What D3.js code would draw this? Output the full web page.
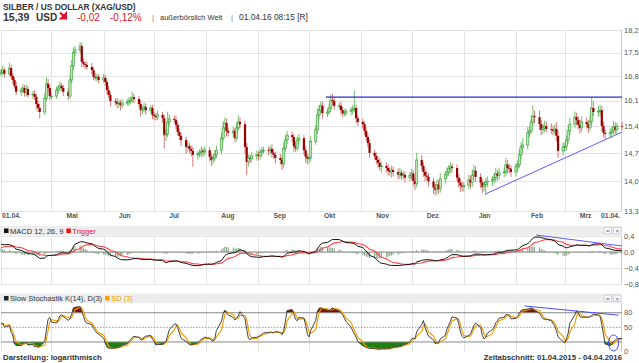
<!DOCTYPE html>
<html>
<head>
<meta charset="utf-8">
<script src="https://cdn.jsdelivr.net/npm/d3@7"></script>
<style>
body{margin:0;background:#fff}
svg{display:block;font-family:"Liberation Sans",Arial,sans-serif}
</style>
</head>
<body>
<svg id="chart"></svg>
<script>
const width = 639
const height = 363

// Schlusskurse je Handelstag, 01.04.2015 - 04.04.2016 (Apr..Mrz, Apr)
const closes = [
  16.92,16.98,16.87,17.04,16.81,16.69,16.52,16.35,16.40,16.46,16.32,16.43,16.26,16.29,16.21,16.01,15.90,15.79,16.17,16.58,16.46,16.23,
  16.23,16.40,16.46,16.52,16.46,16.35,16.23,16.69,17.10,17.51,17.58,17.70,17.22,17.16,17.13,17.07,16.98,16.78,16.75,16.78,16.69,
  16.75,16.63,16.40,16.26,16.09,16.06,16.01,16.04,15.98,16.04,16.06,16.09,16.12,16.20,16.15,16.01,15.84,15.87,15.93,15.84,15.90,15.71,
  15.68,15.65,15.71,15.62,15.17,15.20,15.52,15.60,15.57,15.44,15.25,15.15,15.04,14.86,14.88,14.81,14.76,14.66,14.68,14.71,14.76,14.73,14.78,
  14.61,14.53,14.58,14.66,14.78,15.09,15.36,15.49,15.28,15.23,15.28,15.09,15.36,15.52,15.46,14.86,14.48,14.58,14.56,14.63,14.66,
  14.63,14.73,14.76,14.78,14.76,14.81,14.71,14.66,14.58,14.53,14.43,14.83,15.04,15.17,15.12,14.88,14.83,15.04,15.09,14.78,14.61,14.56,
  14.58,15.00,15.31,15.71,15.84,15.96,15.76,15.79,15.90,16.12,16.09,15.96,15.96,15.84,15.76,15.76,15.81,15.84,15.87,15.90,15.62,15.52,
  15.46,15.28,15.12,14.96,14.71,14.63,14.53,14.46,14.36,14.38,14.33,14.26,14.23,14.28,14.23,14.16,14.21,14.14,14.16,14.09,14.14,
  14.19,14.01,13.94,14.53,14.38,14.23,14.14,14.11,14.00,13.85,13.80,13.92,13.82,14.06,14.16,14.23,14.31,14.36,14.33,14.09,13.97,13.90,13.87,
  13.90,14.04,13.97,14.14,14.26,14.11,13.97,13.87,13.92,13.97,14.01,14.04,14.09,14.19,14.14,14.21,14.23,14.41,14.33,14.31,14.23,
  14.36,14.41,14.66,14.86,14.91,15.23,15.28,15.52,15.68,15.65,15.46,15.31,15.36,15.41,15.33,15.31,15.28,15.33,15.15,14.76,14.86,
  14.88,15.04,15.28,15.46,15.65,15.57,15.44,15.36,15.52,15.46,15.36,15.54,15.90,15.79,15.81,15.84,15.41,15.23,15.20,15.23,15.28,15.39,15.31,
  15.41,15.39
]
// Dochte in Cent ueber / unter dem Kerzenkoerper
const wickHi = [
  10,12,8,15,10,8,9,12,8,11,9,12,8,9,11,8,9,12,15,18,14,9,
  8,11,9,12,8,9,11,15,18,15,12,12,9,11,8,9,12,8,11,9,8,
  12,9,8,11,9,8,12,9,8,11,9,12,9,15,9,8,11,8,12,9,8,9,
  9,8,11,8,9,12,28,12,9,11,8,9,8,9,12,8,9,11,8,9,12,8,9,
  8,9,8,11,12,15,18,15,12,9,11,8,15,18,12,9,11,9,8,9,11,
  9,8,11,8,9,8,12,9,8,11,9,15,12,11,9,8,12,9,11,8,9,8,
  8,15,12,18,15,12,11,9,12,15,18,9,8,12,9,11,8,9,12,50,9,8,
  9,8,11,8,9,8,9,8,11,9,8,9,8,11,9,8,12,8,9,8,9,
  11,8,9,18,12,9,8,11,9,8,9,12,11,14,9,12,9,11,8,9,8,11,9,
  8,12,9,14,15,11,9,8,9,12,11,9,12,14,9,12,11,18,12,11,9,
  9,11,15,12,18,15,12,18,30,15,18,12,11,14,12,15,11,12,18,15,12,
  9,12,15,18,15,12,11,14,15,12,11,18,30,18,15,14,12,11,9,12,11,15,12,
  9,12
]
const wickLo = [
  8,9,12,8,9,11,8,9,12,8,11,9,8,12,9,15,11,18,9,8,12,11,
  9,8,11,8,9,12,11,8,9,12,11,9,15,9,12,8,11,9,8,11,9,
  9,11,12,9,15,9,12,11,15,9,8,11,9,8,12,9,18,11,9,12,9,12,
  11,9,8,12,35,15,9,11,8,12,9,11,15,18,12,11,14,30,12,9,11,12,9,
  12,15,11,9,8,11,9,12,15,9,12,11,9,8,12,18,32,12,11,9,12,
  11,9,12,8,11,9,12,11,14,12,15,9,8,11,12,14,9,8,11,12,15,14,
  12,9,8,11,12,9,15,11,8,9,12,11,9,12,11,9,8,11,12,9,14,11,
  11,12,9,11,12,9,11,12,9,15,11,12,9,14,11,12,9,11,8,12,9,
  11,12,15,9,11,12,14,9,12,15,14,11,12,9,11,8,9,11,12,9,12,15,11,
  12,9,14,11,9,12,14,15,12,25,11,12,9,11,12,9,11,9,14,11,12,
  11,12,9,12,15,11,12,9,12,18,15,14,11,12,9,11,12,9,15,18,12,
  12,11,9,12,11,14,12,15,11,12,14,9,12,11,14,12,15,12,14,11,12,9,12,
  11,9
]
const firstOpen = 16.87
const macdSeed = [16.72, 16.54, 0.08]   // EMA12, EMA26, Trigger zum Start

const priceTicks = [18.2,17.5,16.8,16.1,15.4,14.7,14.0,13.3]
const macdTicks = [0.4,0,-0.4,-0.8]
const stochTicks = [80,50,0]
const stochLevels = [80,50,20]
const monthNames = ['Mai','Jun','Jul','Aug','Sep','Okt','Nov','Dez','Jan','Feb','Mrz']

// Trendlinien / Markierungen
const resistance = [{date:'2015-10-11',value:16.2},{date:'2016-04-04',value:16.2}]
const support = [{date:'2016-01-14',value:13.70},{date:'2016-04-04',value:15.25}]
const macdTrend = [{date:'2016-02-13',value:0.425},{date:'2016-04-04',value:0.15}]
const stochTrend = [{date:'2016-02-06',value:94},{date:'2016-04-02',value:75}]
const stochMark = {date:'2016-03-30',value:18}

const parse = d3.timeParse('%Y-%m-%d')
const start = new Date(2015,3,1), end = new Date(2016,3,4)
const days = d3.timeDay.range(start, d3.timeDay.offset(end,1)).filter(d=>d.getDay()%6!==0)

const data = []
let prev = firstOpen
closes.forEach((c,i)=>{
    const o = prev
    data.push({date:days[i],open:o,close:c,
        high:Math.max(o,c)+wickHi[i]/100,
        low:Math.min(o,c)-wickLo[i]/100})
    prev = c
})

// MACD 12,26,9
let e12=macdSeed[0], e26=macdSeed[1], sig=macdSeed[2]
data.forEach(d=>{
    e12 += 2/13*(d.close-e12)
    e26 += 2/27*(d.close-e26)
    d.macd = e12-e26
    sig += 2/10*(d.macd-sig)
    d.trig = sig
})
// Slow Stochastik K(14), D(3)
data.forEach((d,i)=>{
    const w = data.slice(Math.max(0,i-13),i+1)
    const lo = d3.min(w,e=>e.low), hi = d3.max(w,e=>e.high)
    d.fk = (d.close-lo)/(hi-lo)*100
})
data.forEach((d,i)=>{ d.k = d3.mean(data.slice(Math.max(0,i-2),i+1),e=>e.fk) })
data.forEach((d,i)=>{ d.d = d3.mean(data.slice(Math.max(0,i-2),i+1),e=>e.k) })

const svg = d3.select('#chart').attr('width',width).attr('height',height)

const x = d3.scaleTime().domain([start,end]).range([1,622])
const yP = d3.scaleLog().domain([13.3,18.2]).range([211,30])
const yM = d3.scaleLinear().domain([-0.8,0.4]).range([284,236])
const yH = d3.scaleLinear().domain([-0.4,0.2]).range([268,244])   // Histogramm, ueberhoeht
const yS = d3.scaleLinear().domain([0,100]).range([351.7,303])

const months = d3.timeMonth.range(new Date(2015,4,1), new Date(2016,3,1))
const fmt = v => d3.format('.1f')(v).replace('.',',')

// Kopfzeile
const head = svg.append('g').attr('fill','#333')
head.append('text').attr('x',3).attr('y',10).attr('font-size',8.4).attr('font-weight','bold').text('SILBER / US DOLLAR (XAG/USD)')
head.append('text').attr('x',3).attr('y',20.5).attr('font-size',10.5).attr('font-weight','bold').text('15,39')
head.append('text').attr('x',36).attr('y',20.5).attr('font-size',10).attr('font-weight','bold').text('USD')
head.append('path').attr('d','M60,12.5 L65,17.5 M66,13.5 L66,18.5 L61,18.5 Z').attr('stroke','#e0102e').attr('stroke-width',2).attr('fill','#e0102e')
head.append('text').attr('x',77).attr('y',20.5).attr('font-size',10).attr('fill','#e0102e').text('-0,02')
head.append('text').attr('x',110).attr('y',20.5).attr('font-size',10).attr('fill','#e0102e').text('-0,12%')
head.append('text').attr('x',152).attr('y',20).attr('font-size',8).attr('fill','#888').text('|')
head.append('text').attr('x',160).attr('y',19.5).attr('font-size',7.5).text('außerbörslich Welt')
head.append('text').attr('x',231).attr('y',20).attr('font-size',8).attr('fill','#888').text('|')
head.append('text').attr('x',239).attr('y',19.5).attr('font-size',8.4).text('01.04.16 08:15 [R]')

// Raster
function grid(y0,y1,ticks,yScale){
    const g = svg.append('g').attr('stroke','#e3e3e3').attr('stroke-width',1)
    g.selectAll('.v').data(months).join('line')
        .attr('x1',d=>Math.round(x(d))+0.5).attr('x2',d=>Math.round(x(d))+0.5)
        .attr('y1',y0).attr('y2',y1)
    g.selectAll('.h').data(ticks).join('line')
        .attr('x1',1).attr('x2',622).attr('y1',d=>Math.round(yScale(d))+0.5).attr('y2',d=>Math.round(yScale(d))+0.5)
    g.append('line').attr('x1',1.5).attr('x2',1.5).attr('y1',y0).attr('y2',y1)
    g.append('line').attr('x1',621.5).attr('x2',621.5).attr('y1',y0).attr('y2',y1).attr('stroke','#ccc')
    svg.append('g').selectAll('text').data(ticks).join('text')
        .attr('x',624).attr('y',d=>yScale(d)).attr('dy','0.35em')
        .attr('font-size',7.5).attr('fill','#555')
        .text(d=>fmt(d))
}
grid(30,211,priceTicks,yP)
grid(236,284,macdTicks,yM)
grid(303,352,[],yS)
svg.append('g').selectAll('text').data(stochTicks).join('text')
    .attr('x',624).attr('y',d=>yS(d)).attr('dy','0.35em')
    .attr('font-size',7.5).attr('fill','#555').text(d=>d)

// Monatsbeschriftung
const ax = svg.append('g').attr('font-size',6.8).attr('font-weight','bold').attr('fill','#555')
ax.selectAll('text').data(months).join('text')
    .attr('x',d=>x(d)+15).attr('y',218).text((d,i)=>monthNames[i])
ax.append('text').attr('x',2).attr('y',218).text('01.04.')
ax.append('text').attr('x',620).attr('y',218).attr('text-anchor','end').text('01.04.')

// Kerzen
const bw = 2.2
const candles = svg.append('g')
candles.selectAll('line').data(data).join('line')
    .attr('x1',d=>x(d.date)).attr('x2',d=>x(d.date))
    .attr('y1',d=>yP(d.high)).attr('y2',d=>yP(d.low))
    .attr('stroke',d=>d.close>=d.open?'#74c06e':'#d67878').attr('stroke-width',1)
candles.selectAll('rect').data(data).join('rect')
    .attr('x',d=>x(d.date)-bw/2).attr('width',bw)
    .attr('y',d=>yP(Math.max(d.open,d.close)))
    .attr('height',d=>Math.max(0.8,yP(Math.min(d.open,d.close))-yP(Math.max(d.open,d.close))))
    .attr('fill',d=>d.close>=d.open?'#bfe5b9':'#9a0000')
    .attr('stroke',d=>d.close>=d.open?'#2f9b2f':'none').attr('stroke-width',0.6)

const line = (xs,ys) => d3.line().x(d=>x(parse(d.date))).y(d=>ys(d.value))
svg.append('path').attr('d',line(x,yP)(resistance)).attr('stroke','#2a2ad0').attr('stroke-width',1.2).attr('fill','none')
svg.append('path').attr('d',line(x,yP)(support)).attr('stroke','#5c5cff').attr('stroke-width',1).attr('fill','none')

// Panel-Kopfleisten
function header(y,items){
    svg.append('rect').attr('x',0).attr('y',y).attr('width',622).attr('height',9.5).attr('fill','#ededed')
    let cx = 4
    items.forEach(it=>{
        svg.append('rect').attr('x',cx).attr('y',y+2.5).attr('width',4.5).attr('height',4.5).attr('fill',it.c)
        const t = svg.append('text').attr('x',cx+6).attr('y',y+7.6).attr('font-size',7.5).attr('fill',it.t).text(it.label)
        cx += 6 + t.node().getComputedTextLength() + 3
    })
    ;[604,613.5].forEach((bx,i)=>{
        svg.append('rect').attr('x',bx).attr('y',y+1.5).attr('width',7.5).attr('height',6.5).attr('fill','#f7f7f7').attr('stroke','#bbb').attr('stroke-width',0.6)
        svg.append('text').attr('x',bx+3.75).attr('y',y+7).attr('text-anchor','middle').attr('font-size',6).attr('fill','#666').text(i?'×':'=')
    })
}
header(226,[{c:'#111',t:'#333',label:'MACD 12, 26, 9'},{c:'#ee1111',t:'#ee1111',label:'Trigger'}])
header(293.5,[{c:'#222',t:'#333',label:'Slow Stochastik K(14), D(3)'},{c:'#f5a000',t:'#f5a000',label:'SD (3)'}])

// MACD
svg.append('line').attr('x1',1).attr('x2',622).attr('y1',yM(0)).attr('y2',yM(0)).attr('stroke','#888')
svg.append('g').selectAll('line').data(data).join('line')
    .attr('x1',d=>x(d.date)).attr('x2',d=>x(d.date))
    .attr('y1',yH(0)).attr('y2',d=>yH(d.macd-d.trig))
    .attr('stroke','#7f9f7f').attr('stroke-width',1)
svg.append('path').datum(data).attr('fill','none').attr('stroke','#ff4444').attr('stroke-width',1.1)
    .attr('d',d3.line().x(d=>x(d.date)).y(d=>yM(d.trig)))
svg.append('path').datum(data).attr('fill','none').attr('stroke','#111').attr('stroke-width',1)
    .attr('d',d3.line().x(d=>x(d.date)).y(d=>yM(d.macd)))
svg.append('path').attr('d',line(x,yM)(macdTrend)).attr('stroke','#5c5cff').attr('stroke-width',1).attr('fill','none')

// Stochastik
svg.append('path').datum(data).attr('fill','#7d1600')
    .attr('d',d3.area().x(d=>x(d.date)).y0(yS(80)).y1(d=>yS(Math.max(80,d.k))))
svg.append('path').datum(data).attr('fill','#1e7f12')
    .attr('d',d3.area().x(d=>x(d.date)).y0(yS(20)).y1(d=>yS(Math.min(20,d.k))))
svg.append('g').selectAll('line').data(stochLevels).join('line')
    .attr('x1',1).attr('x2',622).attr('y1',d=>yS(d)).attr('y2',d=>yS(d))
    .attr('stroke',d=>d===50?'#999':'#888').attr('stroke-dasharray',d=>d===50?'1.5,1.5':null)
svg.append('path').datum(data).attr('fill','none').attr('stroke','#f5a000').attr('stroke-width',1.2)
    .attr('d',d3.line().x(d=>x(d.date)).y(d=>yS(d.d)))
svg.append('path').datum(data).attr('fill','none').attr('stroke','#444').attr('stroke-width',1)
    .attr('d',d3.line().x(d=>x(d.date)).y(d=>yS(d.k)))
svg.append('path').attr('d',line(x,yS)(stochTrend)).attr('stroke','#4848ff').attr('stroke-width',1).attr('fill','none')
svg.append('ellipse').attr('cx',x(parse(stochMark.date))).attr('cy',yS(stochMark.value))
    .attr('rx',5).attr('ry',8).attr('fill','none').attr('stroke','#4848ff').attr('stroke-width',1)

// Fusszeile
svg.append('text').attr('x',3).attr('y',360).attr('font-size',7.8).attr('font-weight','bold').attr('fill','#333').text('Darstellung: logarithmisch')
svg.append('text').attr('x',622).attr('y',360).attr('text-anchor','end').attr('font-size',7.8).attr('font-weight','bold').attr('fill','#333').text('Zeitabschnitt: 01.04.2015 - 04.04.2016')
</script>
</body>
</html>
